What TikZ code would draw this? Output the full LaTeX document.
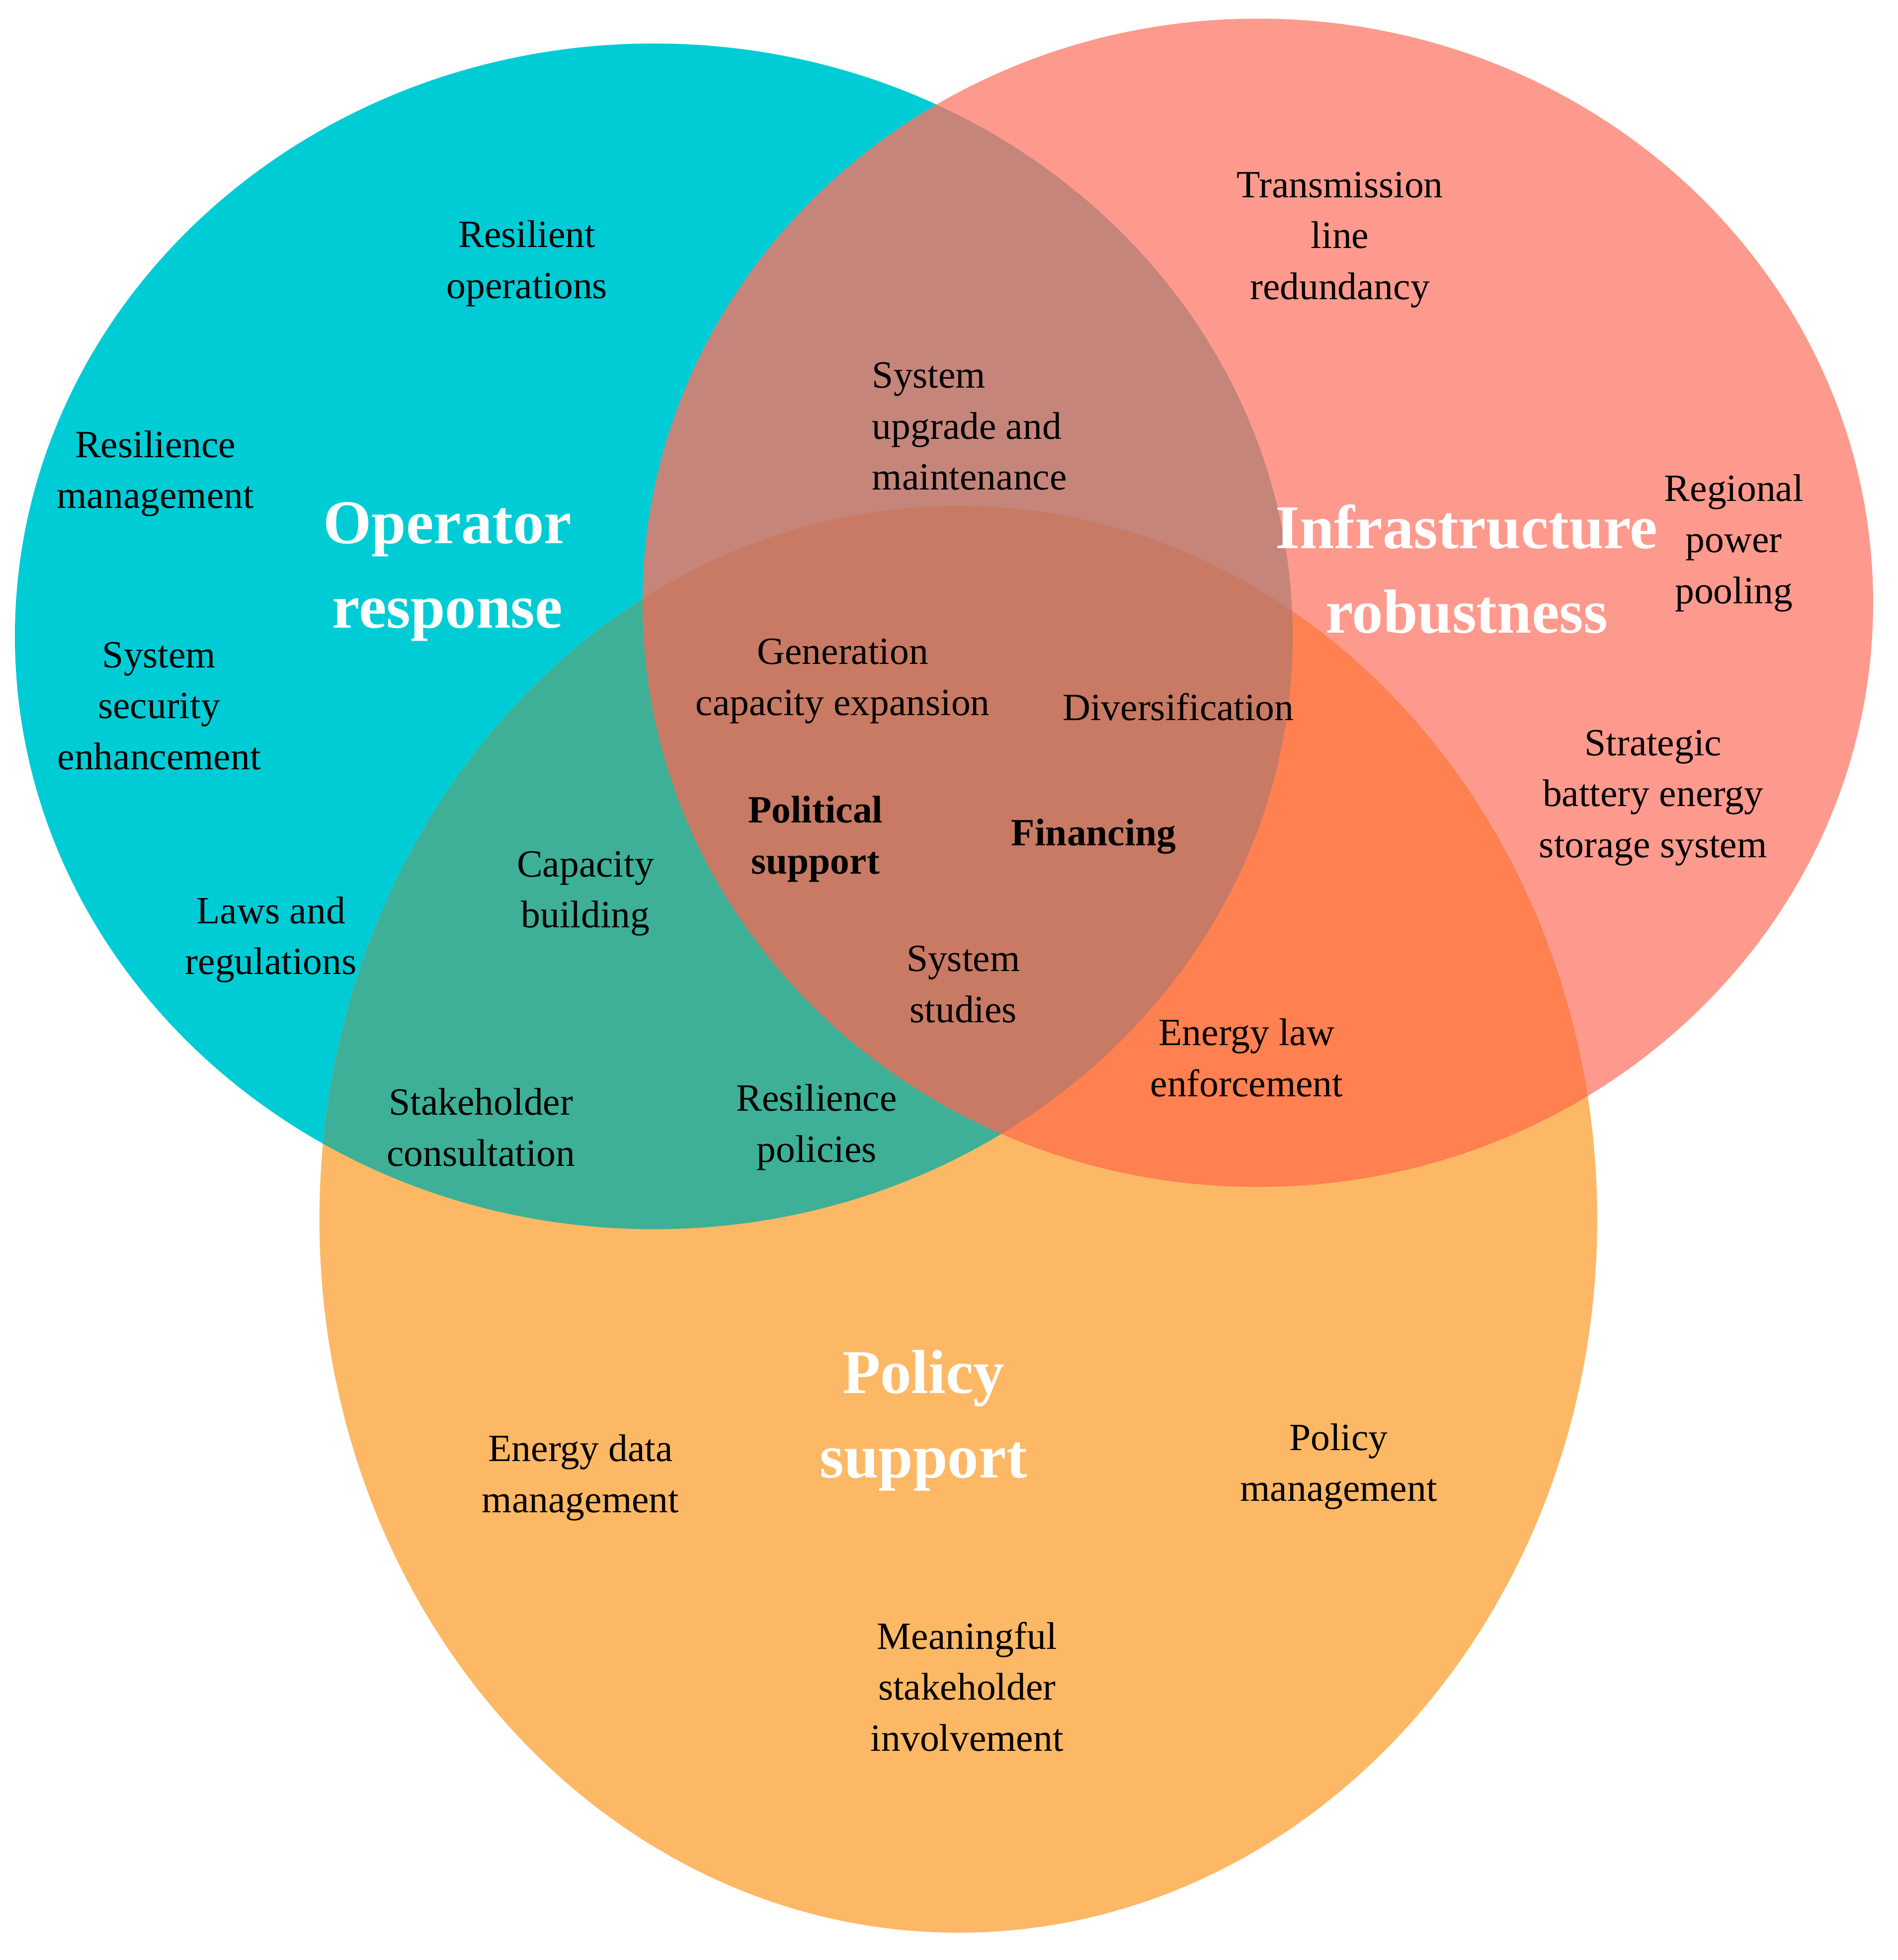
\documentclass[tikz,border=0pt]{standalone}
\usepackage{fontspec}
\setmainfont{Liberation Serif}
\definecolor{cC}{HTML}{00CCD6}
\definecolor{cP}{HTML}{FE9A8D}
\definecolor{cO}{HTML}{FDB865}
\definecolor{cCP}{HTML}{C6857A}
\definecolor{cCO}{HTML}{3DB097}
\definecolor{cPO}{HTML}{FF8050}
\definecolor{cCPO}{HTML}{C87A64}
\begin{document}
\begin{tikzpicture}[x=1pt,y=-1pt,
  lab/.style={align=center,font=\fontsize{31}{41}\selectfont,text=black},
  bl/.style={lab,font=\fontsize{31}{41}\selectfont\bfseries},
  ttl/.style={align=center,font=\fontsize{50}{68}\selectfont\bfseries,text=white}]
\useasboundingbox (0,0) rectangle (1527,1577);
\def\CC{(526,512) ellipse [x radius=514,y radius=477]}
\def\PP{(1012,485) ellipse [x radius=495,y radius=470]}
\def\OO{(771,981) ellipse [x radius=514,y radius=574]}
\fill[cC] \CC; \fill[cP] \PP; \fill[cO] \OO;
\begin{scope}\clip \CC; \fill[cCP] \PP; \fill[cCO] \OO; \end{scope}
\begin{scope}\clip \PP; \fill[cPO] \OO; \end{scope}
\begin{scope}\clip \CC; \clip \PP; \fill[cCPO] \OO; \end{scope}
\node[lab] (a1) at (424,212) {Resilient\\operations};
\node[lab] (a2) at (125,381) {Resilience\\management};
\node[lab] (a3) at (128,568) {System\\security\\enhancement};
\node[lab] (a4) at (218,756) {Laws and\\regulations};
\node[ttl] (t1) at (360,460) {Operator\\response};
\node[lab] (b1) at (1078,193) {Transmission\\line\\redundancy};
\node[lab,align=left] (b2) at (780,343) {System\\upgrade and\\maintenance};
\node[ttl] (t2) at (1180,458) {Infrastructure\\robustness};
\node[lab] (b3) at (1395,437) {Regional\\power\\pooling};
\node[lab] (c1) at (678,548) {Generation\\capacity expansion};
\node[lab] (c2) at (948,569) {Diversification};
\node[bl] (c3) at (656,675) {Political\\support};
\node[bl] (c4) at (880,673) {Financing};
\node[lab] (b4) at (1330,642) {Strategic\\battery energy\\storage system};
\node[lab] (d1) at (471,719) {Capacity\\building};
\node[lab] (c5) at (775,792) {System\\studies};
\node[lab] (e1) at (1003,851) {Energy law\\enforcement};
\node[lab] (d2) at (387,907) {Stakeholder\\consultation};
\node[lab] (d3) at (657,907) {Resilience\\policies};
\node[ttl] (t3) at (743,1143) {Policy\\support};
\node[lab] (f1) at (467,1189) {Energy data\\management};
\node[lab] (f2) at (1077,1180) {Policy\\management};
\node[lab] (f3) at (778,1357) {Meaningful\\stakeholder\\involvement};
\end{tikzpicture}
\end{document}
